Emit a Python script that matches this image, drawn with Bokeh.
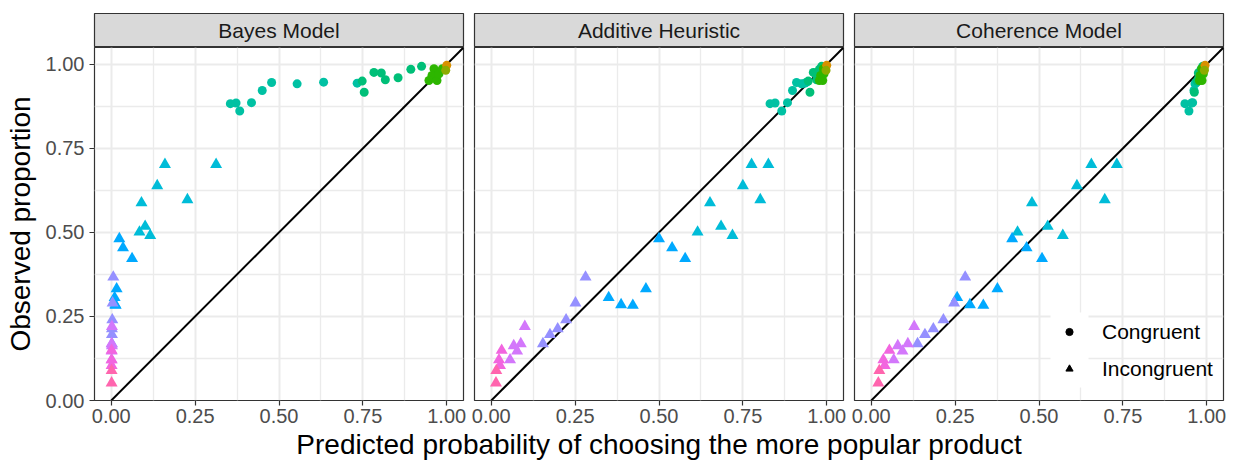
from bokeh.plotting import figure
from bokeh.layouts import column, row
from bokeh.models import (ColumnDataSource, Range1d, FixedTicker, NumeralTickFormatter,
                          Slope, Label, Legend, LegendItem, BoxAnnotation)
from bokeh.embed import file_html
from bokeh.resources import INLINE

# ---------------- data ----------------
panel_names = ["Bayes Model", "Additive Heuristic", "Coherence Model"]
major_ticks = [0.0, 0.25, 0.5, 0.75, 1.0]
minor_ticks = [0.125, 0.375, 0.625, 0.875]

# congruent trials (circles)
cong_observed = [0.883, 0.885, 0.861, 0.886, 0.922, 0.946, 0.942, 0.947, 0.944,
                 0.950, 0.917, 0.976, 0.974, 0.954, 0.960, 0.985, 0.994,
                 0.987, 0.967, 0.952, 0.952, 0.972, 0.987, 0.997, 0.982]
cong_bayes = [0.355, 0.372, 0.383, 0.418, 0.450, 0.478, 0.554, 0.633, 0.733,
              0.748, 0.754, 0.783, 0.805, 0.817, 0.855, 0.893, 0.925,
              0.962, 0.956, 0.947, 0.971, 0.977, 0.987, 1.000, 0.997]
cong_additive = [0.831, 0.846, 0.866, 0.883, 0.898, 0.910, 0.925, 0.940, 0.935,
                 0.945, 0.950, 0.960, 0.965, 0.970, 0.975, 0.978, 0.985,
                 0.990, 0.982, 0.978, 0.988, 0.992, 0.995, 1.000, 0.998]
cong_coherence = [0.935, 0.955, 0.947, 0.958, 0.962, 0.968, 0.965, 0.970, 0.967,
                  0.972, 0.963, 0.978, 0.975, 0.974, 0.977, 0.983, 0.988,
                  0.985, 0.980, 0.978, 0.986, 0.990, 0.992, 0.995, 0.993]
cong_level = [6, 6, 6, 6, 6, 6, 6, 6, 6,
              7, 7, 7, 7, 7, 7, 7, 7,
              8, 8, 8, 8, 8, 8, 10, 9]

# incongruent trials (triangles)
inc_observed = [0.702, 0.702, 0.639, 0.597, 0.588, 0.518, 0.501, 0.491, 0.481, 0.454,
                0.422, 0.367, 0.332, 0.306, 0.285, 0.283, 0.290, 0.240, 0.213, 0.196,
                0.169, 0.220, 0.169, 0.163, 0.147, 0.121, 0.149, 0.121, 0.104, 0.089, 0.052]
inc_bayes = [0.160, 0.3125, 0.137, 0.227, 0.090, 0.101, 0.084, 0.116, 0.024, 0.035,
             0.062, 0.006, 0.016, 0.010, 0.012, 0.013, 0.004, 0.003, 0.002, 0.002,
             0.002, 0.002, 0.001, 0.002, 0.001, 0.001, 0.001, 0.001, 0.001, 0.001, 0.001]
inc_additive = [0.776, 0.826, 0.750, 0.802, 0.652, 0.685, 0.615, 0.719, 0.500, 0.539,
                0.578, 0.281, 0.461, 0.350, 0.387, 0.422, 0.251, 0.223, 0.198, 0.175,
                0.154, 0.100, 0.088, 0.067, 0.077, 0.056, 0.031, 0.023, 0.026, 0.015, 0.014]
inc_coherence = [0.656, 0.732, 0.613, 0.696, 0.479, 0.526, 0.436, 0.571, 0.420, 0.463,
                 0.509, 0.280, 0.376, 0.256, 0.294, 0.334, 0.247, 0.215, 0.185, 0.160,
                 0.138, 0.128, 0.109, 0.079, 0.093, 0.067, 0.054, 0.036, 0.040, 0.024, 0.021]
inc_level = [5, 5, 5, 5, 5, 5, 5, 5, 4, 4,
             4, 3, 4, 4, 4, 4, 3, 3, 3, 3,
             3, 2, 2, 2, 2, 2, 1, 1, 1, 0, 0]

palette = ["#FF65AE", "#F265DF", "#D377FB", "#9590FF", "#00A9FF", "#00BCD8",
           "#00C1A3", "#00BF78", "#2DB600", "#8CAB00", "#D89000"]

legend_labels = ["Congruent", "Incongruent"]
x_title = "Predicted probability of choosing the more popular product"
y_title = "Observed proportion"

# ---------------- styling ----------------
FONT = "Liberation Sans"
GRID = "#EBEBEB"
BORDER = "#333333"
widths = [468, 380, 387]
left_b = [94, 6, 6]
right_b = [5, 5, 12]
NAN = float("nan")

cong_x = [cong_bayes, cong_additive, cong_coherence]
inc_x = [inc_bayes, inc_additive, inc_coherence]


def strip(i):
    s = figure(width=widths[i], height=47, x_range=Range1d(0, 1), y_range=Range1d(0, 1),
               output_backend="svg", toolbar_location=None, title=None,
               x_axis_location=None, y_axis_location=None,
               min_border_left=left_b[i], min_border_right=right_b[i],
               min_border_top=13, min_border_bottom=0)
    for g in s.grid:
        g.visible = False
    s.background_fill_color = "#D9D9D9"
    s.border_fill_color = "white"
    s.outline_line_color = BORDER
    s.outline_line_width = 1.2
    s.add_layout(Label(x=0.5, y=0.5, text=panel_names[i], text_align="center",
                       text_baseline="middle", text_font=FONT, text_font_size="21px",
                       text_color="#1A1A1A"))
    return s


def panel(i):
    p = figure(width=widths[i], height=383, x_range=Range1d(-0.05, 1.05),
               y_range=Range1d(0, 1.05), output_backend="svg", toolbar_location=None,
               title=None, min_border_left=left_b[i], min_border_right=right_b[i],
               min_border_top=0, min_border_bottom=30)
    p.background_fill_color = "white"
    p.border_fill_color = "white"
    p.outline_line_color = BORDER
    p.outline_line_width = 1.2

    for ax in [p.xaxis[0], p.yaxis[0]]:
        ax.ticker = FixedTicker(ticks=major_ticks, minor_ticks=minor_ticks)
        ax.formatter = NumeralTickFormatter(format="0.00")
        ax.axis_line_color = None
        ax.major_tick_line_color = BORDER
        ax.major_tick_line_width = 1.2
        ax.major_tick_out = 5
        ax.major_tick_in = 0
        ax.minor_tick_line_color = None
        ax.major_label_text_font = FONT
        ax.major_label_text_font_size = "20px"
        ax.major_label_text_color = "#4D4D4D"
        ax.major_label_standoff = 3
    p.yaxis.major_label_standoff = 5
    for g in [p.xgrid[0], p.ygrid[0]]:
        g.ticker = FixedTicker(ticks=major_ticks, minor_ticks=minor_ticks)
        g.grid_line_color = GRID
        g.grid_line_width = 2
        g.minor_grid_line_color = GRID
        g.minor_grid_line_width = 1.3

    if i == 0:
        p.yaxis.axis_label = y_title
        p.yaxis.axis_label_text_font = FONT
        p.yaxis.axis_label_text_font_size = "28px"
        p.yaxis.axis_label_text_font_style = "normal"
        p.yaxis.axis_label_text_color = "black"
        p.yaxis.axis_label_standoff = 7
    else:
        p.yaxis.visible = False

    p.add_layout(Slope(gradient=1, y_intercept=0, line_color="black", line_width=2,
                       level="underlay"))

    src_c = ColumnDataSource(dict(x=cong_x[i], y=cong_observed,
                                  c=[palette[k] for k in cong_level]))
    src_t = ColumnDataSource(dict(x=inc_x[i], y=inc_observed,
                                  c=[palette[k] for k in inc_level]))
    p.scatter("x", "y", source=src_t, marker="triangle", size=12,
              fill_color="c", line_color=None)
    p.scatter("x", "y", source=src_c, marker="circle", size=9,
              fill_color="c", line_color=None)

    if i == 2:
        # white background of the legend keys
        p.add_layout(BoxAnnotation(left=196, right=234, bottom=13, top=88,
                                   left_units="screen", right_units="screen",
                                   top_units="screen", bottom_units="screen",
                                   fill_color="white", fill_alpha=1, line_color=None,
                                   level="underlay"))
        # placeholder renderers (not drawn) that only supply the legend glyphs
        rc = p.scatter(x=[NAN], y=[NAN], marker="circle", size=7,
                       fill_color="black", line_color="black")
        rt = p.scatter(x=[NAN], y=[NAN], marker="triangle", size=9,
                       fill_color="black", line_color="black")
        leg = Legend(items=[LegendItem(label=legend_labels[0], renderers=[rc]),
                            LegendItem(label=legend_labels[1], renderers=[rt])],
                     location=(206, 13), glyph_width=18, glyph_height=37,
                     label_height=37, padding=0, spacing=0, margin=0,
                     label_standoff=24, background_fill_alpha=0,
                     border_line_color=None, label_text_font=FONT,
                     label_text_font_size="21px", label_text_color="black")
        p.add_layout(leg)
    return p


strips = [strip(i) for i in range(3)]
panels = [panel(i) for i in range(3)]

t = figure(width=1235, height=33, x_range=Range1d(0, 1), y_range=Range1d(0, 1),
           output_backend="svg", toolbar_location=None, title=None,
           x_axis_location=None, y_axis_location=None,
           min_border_left=94, min_border_right=12, min_border_top=0, min_border_bottom=0)
for g in t.grid:
    g.visible = False
t.outline_line_color = None
t.background_fill_color = "white"
t.border_fill_color = "white"
t.add_layout(Label(x=0.5, y=0.5, y_offset=3, text=x_title, text_align="center",
                   text_baseline="middle", text_font=FONT, text_font_size="28px",
                   text_color="black"))

layout = column(row(*strips), row(*panels), t)
open("out.html", "w").write(file_html(layout, INLINE))
